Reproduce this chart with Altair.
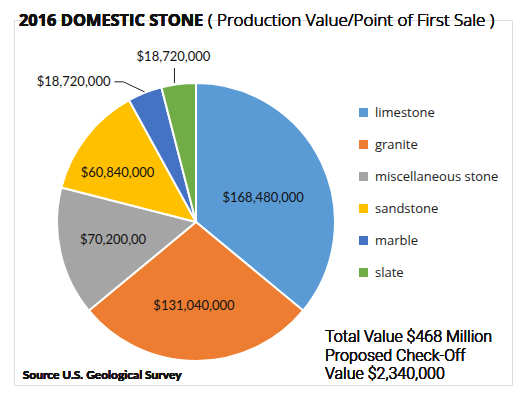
import altair as alt
import pandas as pd

categories = ["limestone", "granite", "miscellaneous stone", "sandstone", "marble", "slate"]
values = [168480000, 131040000, 70200000, 60840000, 18720000, 18720000]
labels = ["$168,480,000", "$131,040,000", "$70,200,00", "$60,840,000", "$18,720,000", "$18,720,000"]
colors = ["#5B9BD5", "#ED7D31", "#A5A5A5", "#FFC000", "#4472C4", "#70AD47"]
note_lines = ["Total Value $468 Million", "Proposed Check-Off", "Value $2,340,000"]

df = pd.DataFrame({"category": categories, "value": values, "label": labels,
                   "idx": list(range(len(categories)))})

PAD_L, PAD_T = 6, 12


def px(x):
    return x - 8 - PAD_L


def py(y):
    return y - 8 - PAD_T


CX, CY, R = px(196), py(222), 139
LBL_FONT = "Lato"
TXT_FONT = "Open Sans"

base = alt.Chart(df)

pie = base.mark_arc(radius=R, stroke="white", strokeWidth=2).encode(
    theta=alt.Theta("value:Q", stack=True),
    color=alt.Color("category:N", scale=alt.Scale(domain=categories, range=colors),
                    legend=alt.Legend(title=None, orient="none", legendX=px(357), legendY=py(106),
                                      symbolType="square", symbolSize=81, symbolStrokeWidth=0,
                                      labelFont=TXT_FONT, labelFontSize=13, labelColor="#222",
                                      labelFontWeight=400,
                                      labelOffset=5, rowPadding=18, padding=0)),
    order=alt.Order("idx:Q"),
    x=alt.value(CX), y=alt.value(CY),
)

geo = base.transform_joinaggregate(total="sum(value)").transform_window(
    cum="sum(value)", sort=[alt.SortField("idx")], frame=[None, 0]
).transform_calculate(
    mid="2*PI*(datum.cum - datum.value/2)/datum.total"
).transform_calculate(
    sx=f"{CX} + 140*sin(datum.mid)", sy=f"{CY} - 140*cos(datum.mid)"
)


def inside(cat, radius, dx=0, dy=0):
    return geo.transform_filter(alt.datum.category == cat).mark_text(
        radius=radius, font=LBL_FONT, fontSize=13, color="#111", dx=dx, dy=dy, baseline="middle"
    ).encode(theta=alt.Theta("mid:Q", scale=None), text="label:N",
             x=alt.value(CX), y=alt.value(CY))


lab_lime = inside("limestone", 72, 2, 7)
lab_gran = inside("granite", 84, -2, 0)
lab_misc = inside("miscellaneous stone", 85, 0, -1)
lab_sand = inside("sandstone", 93, -5, 8)

marble = geo.transform_filter(alt.datum.category == "marble").transform_calculate(
    ex="datum.sx - 21", ey="datum.sy - 10", hx="datum.sx - 30"
)
m_line1 = marble.mark_rule(color="#222", strokeWidth=1).encode(
    x=alt.X("sx:Q", scale=None), y=alt.Y("sy:Q", scale=None),
    x2="ex:Q", y2="ey:Q")
m_line2 = marble.mark_rule(color="#222", strokeWidth=1).encode(
    x=alt.X("ex:Q", scale=None), y=alt.Y("ey:Q", scale=None),
    x2="hx:Q", y2="ey:Q")
m_text = marble.mark_text(align="right", baseline="middle", font=LBL_FONT, fontSize=13,
                          color="#111", dx=-4).encode(
    x=alt.X("hx:Q", scale=None), y=alt.Y("ey:Q", scale=None), text="label:N")

slate = geo.transform_filter(alt.datum.category == "slate").transform_calculate(
    lx="datum.sx - 4", ly="datum.sy - 15", tx="datum.sx - 5", ty="datum.sy - 26"
)
s_line = slate.mark_rule(color="#222", strokeWidth=1).encode(
    x=alt.X("lx:Q", scale=None), y=alt.Y("sy:Q", scale=None), y2="ly:Q")
s_text = slate.mark_text(align="center", baseline="middle", font=LBL_FONT, fontSize=13,
                         color="#111").encode(
    x=alt.X("tx:Q", scale=None), y=alt.Y("ty:Q", scale=None), text="label:N")

TITLE_Y = 21
title_bold = alt.Chart(df).mark_text(
    text="2016 DOMESTIC STONE", align="left", baseline="middle",
    font=TXT_FONT, fontSize=16.4, fontWeight="bold", color="#111"
).encode(x=alt.value(px(19)), y=alt.value(py(TITLE_Y)))
title_reg = alt.Chart(df).mark_text(
    text="( Production Value/Point of First Sale )", align="left", baseline="middle",
    font=TXT_FONT, fontSize=17, fontWeight=300, color="#111"
).encode(x=alt.value(px(208)), y=alt.value(py(TITLE_Y)))

note_layers = [
    alt.Chart(df).mark_text(
        text=line, align="left", baseline="alphabetic",
        font="Roboto", fontSize=16, fontWeight=300, color="#111"
    ).encode(x=alt.value(px(325)), y=alt.value(py(341.7 + 18.8 * i)))
    for i, line in enumerate(note_lines)
]

source = alt.Chart(df).mark_text(
    text="Source U.S. Geological Survey", align="left", baseline="alphabetic",
    font=LBL_FONT, fontSize=12, fontWeight="bold", color="#111"
).encode(x=alt.value(px(22.7)), y=alt.value(py(379.3)))

chart = alt.layer(
    pie, lab_lime, lab_gran, lab_misc, lab_sand,
    m_line1, m_line2, m_text, s_line, s_text,
    title_bold, title_reg, *note_layers, source
).properties(
    width=510 - PAD_L - 6, height=383 - PAD_T - 6,
    autosize=alt.AutoSizeParams(type="none"),
    padding={"left": PAD_L, "top": PAD_T, "right": 6, "bottom": 6}
).configure_view(stroke=None).configure(background="white")

chart.save("out.html", embed_options={"renderer": "svg", "actions": False})
